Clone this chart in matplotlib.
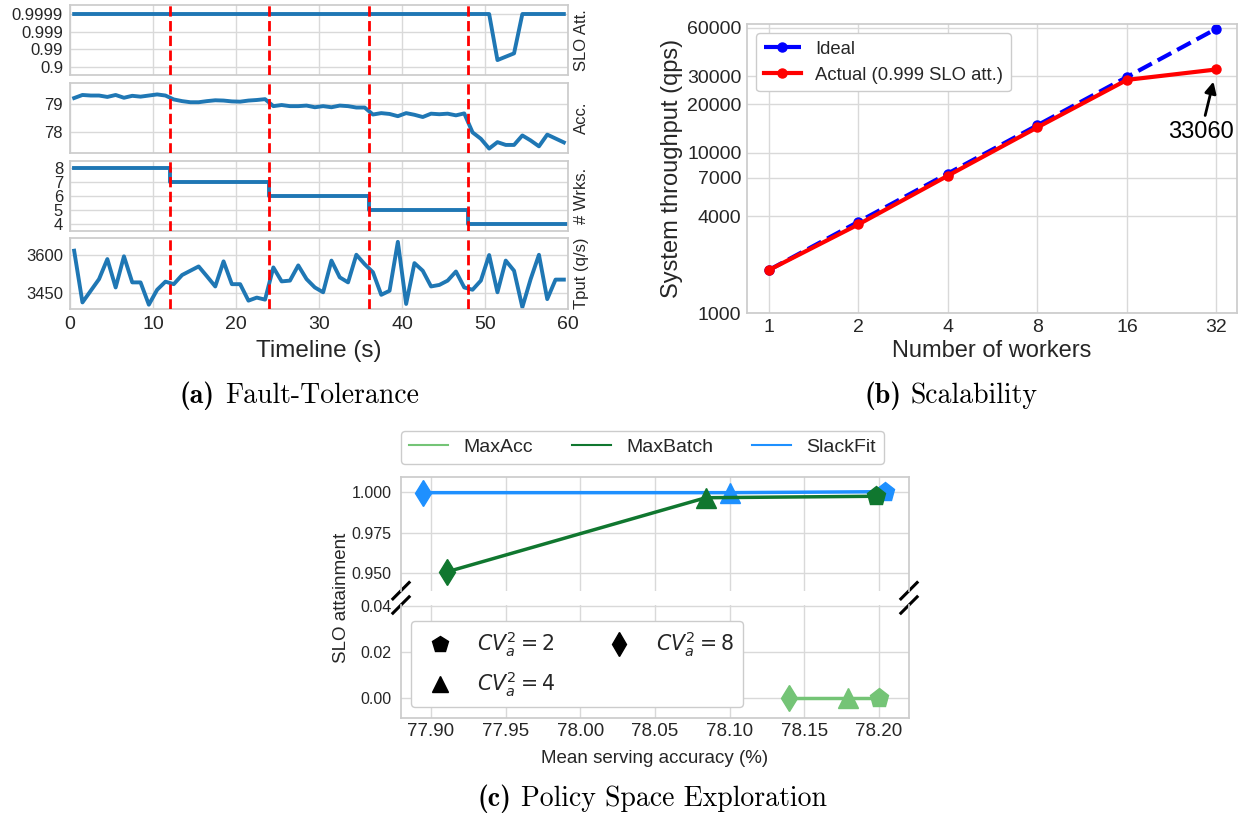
import numpy as np
import matplotlib
matplotlib.use("Agg")
import matplotlib.pyplot as plt
from matplotlib.lines import Line2D
from matplotlib.ticker import NullLocator

# ---------------- (a) fault tolerance timeline ----------------
time_s = np.arange(0.5, 60.0, 1.0)
slo_att = [0.9999] * 51 + [0.958, 0.973, 0.9826] + [0.9999] * 6
accuracy = [79.21, 79.32, 79.30, 79.30, 79.25, 79.32, 79.22, 79.29, 79.26, 79.30,
            79.34, 79.30, 79.16, 79.10, 79.06, 79.06, 79.10, 79.13, 79.12, 79.09,
            79.08, 79.12, 79.14, 79.17, 78.92, 78.96, 78.92, 78.92, 78.94, 78.88,
            78.92, 78.88, 78.94, 78.92, 78.87, 78.87, 78.62, 78.67, 78.64, 78.56,
            78.67, 78.61, 78.53, 78.65, 78.63, 78.65, 78.59, 78.66, 77.98, 77.75,
            77.40, 77.63, 77.53, 77.53, 77.87, 77.69, 77.48, 77.90, 77.76, 77.62]
throughput = [3617, 3413, 3459, 3505, 3584, 3472, 3595, 3492, 3492, 3404,
              3463, 3495, 3485, 3521, 3538, 3555, 3516, 3476, 3575, 3485,
              3485, 3420, 3432, 3424, 3551, 3496, 3499, 3559, 3505, 3472,
              3453, 3578, 3512, 3492, 3601, 3564, 3532, 3443, 3459, 3652,
              3407, 3568, 3538, 3476, 3482, 3499, 3535, 3472, 3463, 3499,
              3600, 3453, 3578, 3538, 3394, 3505, 3601, 3426, 3503, 3503]
worker_change_s = [0.5, 12, 24, 36, 48, 60]
worker_count = [8, 7, 6, 5, 4, 4]
failure_s = [12, 24, 36, 48]
slo_ticks = [0.9, 0.99, 0.999, 0.9999]

# ---------------- (b) scalability ----------------
workers = [1, 2, 4, 8, 16, 32]
ideal_qps = [1854, 3708, 7416, 14832, 29664, 59328]
actual_qps = [1854, 3570, 7190, 14390, 28450, 33060]
qps_ticks = [1000, 4000, 7000, 10000, 20000, 30000, 60000]

# ---------------- (c) policy space exploration ----------------
policies = ["MaxAcc", "MaxBatch", "SlackFit"]
cv2_labels = [r"$CV_a^2 = 2$", r"$CV_a^2 = 4$", r"$CV_a^2 = 8$"]
maxacc_acc = [78.200, 78.179, 78.140]
maxacc_slo = [0.0, 0.0, 0.0]
maxbatch_acc = [78.198, 78.084, 77.911]
maxbatch_slo = [0.9972, 0.9963, 0.951]
slackfit_acc = [78.204, 78.100, 77.895]
slackfit_slo = [1.000, 0.9994, 0.9994]
acc_ticks = [77.90, 77.95, 78.00, 78.05, 78.10, 78.15, 78.20]

# ---------------- style ----------------
plt.rcParams.update({
    "font.family": ["Liberation Sans", "DejaVu Sans"],
    "axes.edgecolor": "0.8",
    "axes.linewidth": 1.25,
    "axes.grid": True,
    "axes.axisbelow": True,
    "grid.color": "0.85",
    "grid.linewidth": 1.0,
    "text.color": "0.15",
    "axes.labelcolor": "0.15",
    "xtick.color": "0.15",
    "ytick.color": "0.15",
    "xtick.major.size": 0,
    "ytick.major.size": 0,
    "xtick.minor.size": 0,
    "ytick.minor.size": 0,
    "legend.edgecolor": "0.8",
    "legend.fancybox": True,
    "legend.framealpha": 1.0,
})

W, H = 1238, 819
fig = plt.figure(figsize=(W / 100, H / 100), dpi=100)


def px_axes(left, top, right, bottom):
    return fig.add_axes([left / W, 1 - bottom / H, (right - left) / W, (bottom - top) / H])


# ---------------- (a) ----------------
def nines(y):
    y = np.asarray(y, dtype=float)
    return -np.log10(np.clip(1.0 - y, 1e-9, None))


def nines_inv(v):
    return 1.0 - 10.0 ** (-np.asarray(v, dtype=float))


blue = "#1f77b4"
ax_slo = px_axes(70, 4.7, 568, 75.3)
ax_acc = px_axes(70, 82.7, 568, 153.3)
ax_wrk = px_axes(70, 160.7, 568, 231)
ax_tp = px_axes(70, 238.3, 568, 309)
axes_a = [ax_slo, ax_acc, ax_wrk, ax_tp]

ax_slo.set_yscale("function", functions=(nines, nines_inv))
ax_slo.plot(time_s, slo_att, color=blue, lw=2.8)
ax_slo.set_ylim(1 - 10 ** -0.51, 1 - 10 ** -4.53)
ax_slo.set_yticks(slo_ticks, [str(v) for v in slo_ticks])
ax_slo.yaxis.set_minor_locator(NullLocator())

ax_acc.plot(time_s, accuracy, color=blue, lw=2.8)
ax_acc.set_ylim(77.23, 79.76)
ax_acc.set_yticks([78, 79], ["78", "79"])

ax_wrk.plot(worker_change_s, worker_count, color=blue, lw=2.8, drawstyle="steps-post")
ax_wrk.set_ylim(3.5, 8.5)
ax_wrk.set_yticks([4, 5, 6, 7, 8], ["4", "5", "6", "7", "8"])

ax_tp.plot(time_s, throughput, color=blue, lw=2.8)
ax_tp.set_ylim(3387, 3666)
ax_tp.set_yticks([3450, 3600], ["3450", "3600"])

for ax, lab in zip(axes_a, ["SLO Att.", "Acc.", "# Wrks.", "Tput (q/s)"]):
    for t in failure_s:
        ax.axvline(t, color="red", ls="--", lw=2.0, zorder=5)
    ax.set_xlim(0, 60)
    ax.set_xticks(range(0, 61, 10))
    ax.tick_params(axis="y", labelsize=12, pad=5)
    ax.tick_params(axis="x", labelsize=14, pad=5)
    ax.yaxis.set_label_position("right")
    ax.set_ylabel(lab, fontsize=12, labelpad=4)
    if ax is not ax_tp:
        ax.tick_params(labelbottom=False)
ax_tp.set_xlabel("Timeline (s)", fontsize=17.5, labelpad=5)

# ---------------- (b) ----------------
axb = px_axes(747, 24, 1237, 313)
axb.set_xscale("log", base=2)
axb.set_yscale("log")
axb.plot(workers, ideal_qps, color="blue", ls="--", marker="o", lw=3, ms=6.5, label="Ideal")
axb.plot(workers, actual_qps, color="red", ls="-", marker="o", lw=3, ms=6.5,
         label="Actual (0.999 SLO att.)")
axb.set_xlim(2 ** -0.245, 2 ** 5.23)
axb.set_ylim(1000, 63500)
axb.set_xticks(workers, [str(w) for w in workers])
axb.set_yticks(qps_ticks, [str(v) for v in qps_ticks])
axb.xaxis.set_minor_locator(NullLocator())
axb.yaxis.set_minor_locator(NullLocator())
axb.tick_params(labelsize=14, pad=4)
axb.set_xlabel("Number of workers", fontsize=17, labelpad=3)
axb.set_ylabel("System throughput (qps)", fontsize=17, labelpad=3)
axb.legend(loc="upper left", fontsize=13.3, handlelength=2.0)
axb.annotate(str(actual_qps[-1]), xy=(workers[-1], actual_qps[-1]),
             xytext=(-11, -45), textcoords="offset points",
             ha="center", va="center", fontsize=17, color="black",
             arrowprops=dict(arrowstyle="-|>", color="black", lw=2, shrinkB=9))

# ---------------- (c) ----------------
light_green = "#74c476"
dark_green = "#10772f"
sky_blue = "#1e90ff"
cv_markers = ["p", "^", "d"]
cv_marker_sizes = [14, 15, 13]

ax_hi = px_axes(401, 477.3, 909, 590.7)
ax_lo = px_axes(401, 605, 909, 718.3)

series = [
    (slackfit_acc, slackfit_slo, sky_blue),
    (maxacc_acc, maxacc_slo, light_green),
    (maxbatch_acc, maxbatch_slo, dark_green),
]
for ax in (ax_hi, ax_lo):
    for xs, ys, col in series:
        ax.plot(xs, ys, color=col, lw=2.5)
        for xv, yv, mk, ms in zip(xs, ys, cv_markers, cv_marker_sizes):
            ax.plot(xv, yv, marker=mk, color=col, ms=ms, ls="none")
    ax.set_xlim(77.88, 78.22)
    ax.set_xticks(acc_ticks)
    ax.tick_params(axis="y", labelsize=11.5, pad=7)
    ax.tick_params(axis="x", labelsize=13.5, pad=3.5)

ax_hi.set_ylim(0.9394, 1.0088)
ax_hi.set_yticks([0.95, 0.975, 1.0], ["0.950", "0.975", "1.000"])
ax_hi.spines["bottom"].set_visible(False)
ax_hi.tick_params(labelbottom=False)

ax_lo.set_ylim(-0.009, 0.0405)
ax_lo.set_yticks([0.0, 0.02, 0.04], ["0.00", "0.02", "0.04"])
ax_lo.spines["top"].set_visible(False)
ax_lo.set_xticklabels([f"{v:.2f}" for v in acc_ticks])
ax_lo.set_xlabel("Mean serving accuracy (%)", fontsize=13.5, labelpad=7)

# diagonal break marks between the two y ranges
d = 0.016
brk = dict(color="black", lw=2.2, clip_on=False)
ax_hi.plot((-d, d), (-d * 4.5, d * 4.5), transform=ax_hi.transAxes, **brk)
ax_hi.plot((1 - d, 1 + d), (-d * 4.5, d * 4.5), transform=ax_hi.transAxes, **brk)
ax_lo.plot((-d, d), (1 - d * 4.5, 1 + d * 4.5), transform=ax_lo.transAxes, **brk)
ax_lo.plot((1 - d, 1 + d), (1 - d * 4.5, 1 + d * 4.5), transform=ax_lo.transAxes, **brk)

fig.text(341.5 / W, 1 - 598 / H, "SLO attainment", rotation=90, ha="center", va="center",
         fontsize=13.5, color="0.15")

policy_handles = [Line2D([], [], color=c, lw=1.5) for c in (light_green, dark_green, sky_blue)]
fig.legend(policy_handles, policies, ncol=3, loc="center",
           bbox_to_anchor=(642.5 / W, 1 - 447.5 / H), fontsize=14,
           handlelength=2.0, handletextpad=0.8, columnspacing=2.0)

cv_handles = [Line2D([], [], marker=m, color="black", ls="none", ms=12) for m in cv_markers]
ax_lo.legend(cv_handles, cv2_labels, ncol=2, loc="lower left",
             bbox_to_anchor=(0.0197, 0.1), borderaxespad=0, fontsize=14.8,
             columnspacing=2.1)


# ---------------- captions ----------------
def caption(left_px, baseline_px, tag, title, size=20, gap=7):
    tag_text = fig.text(left_px / W, 1 - baseline_px / H, tag, fontfamily="cmb10",
                        fontsize=size, ha="left", va="baseline", color="black")
    axb.annotate(title, xy=(1, 1 - baseline_px / H), xycoords=(tag_text, "figure fraction"),
                 xytext=(gap, 0), textcoords="offset points", ha="left", va="baseline",
                 fontfamily="cmr10", fontsize=size, color="black", annotation_clip=False)


caption(180, 403, "(a)", "Fault-Tolerance")
caption(864, 403, "(b)", "Scalability")
caption(477.5, 806, "(c)", "Policy Space Exploration")

fig.savefig("out.png", dpi=100)
